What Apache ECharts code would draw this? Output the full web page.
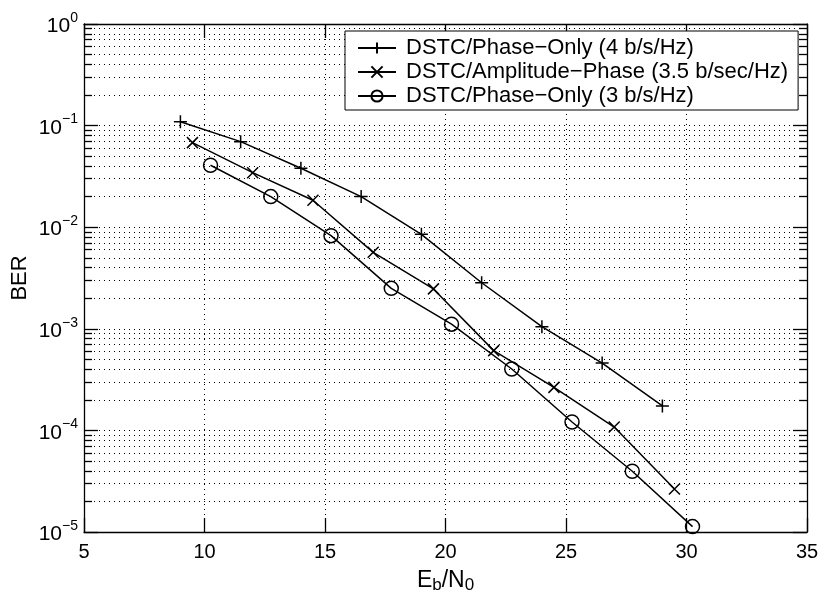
<!DOCTYPE html>
<html>
<head>
<meta charset="utf-8">
<title>BER vs Eb/N0</title>
<script src="https://cdn.jsdelivr.net/npm/echarts@6/dist/echarts.min.js"></script>
<style>
  html, body { margin: 0; padding: 0; background: #fff; }
  #ct1 { width: 820px; height: 603px; }
</style>
</head>
<body>
<div id="ct1"></div>
<script>
// 数据：从图上读取
var names = ['DSTC/Phase\u2212Only (4 b/s/Hz)', 'DSTC/Amplitude\u2212Phase (3.5 b/sec/Hz)', 'DSTC/Phase\u2212Only (3 b/s/Hz)'];
var snr4 = [9, 11.5, 14, 16.5, 19, 21.5, 24, 26.5, 29];
var ber4 = [0.109, 0.0695, 0.038, 0.020, 0.0085, 0.00284, 0.00105, 0.00046, 0.000174];
var snr35 = [9.5, 12, 14.5, 17, 19.5, 22, 24.5, 27, 29.5];
var ber35 = [0.068, 0.0344, 0.0184, 0.00566, 0.00247, 0.00061, 0.000265, 0.000108, 0.0000265];
var snr3 = [10.25, 12.75, 15.25, 17.75, 20.25, 22.75, 25.25, 27.75, 30.25];
var ber3 = [0.0407, 0.020, 0.00825, 0.0025, 0.00111, 0.000402, 0.000121, 0.0000396, 0.0000113];

window.onload = function () {
    var myChart = echarts.init(document.getElementById('ct1'));
    var font = 'Liberation Sans, Arial, Helvetica, sans-serif';
    var dotted = { color: '#000', width: 1, type: [1, 4] };

    function pairs(xs, ys) {
        return xs.map(function (x, i) { return [x, ys[i]]; });
    }
    function line(name, xs, ys, symbol, size) {
        return {
            name: name,
            type: 'line',
            data: pairs(xs, ys),
            symbol: symbol,
            symbolSize: size,
            showAllSymbol: true,
            lineStyle: { color: '#000', width: 1.5 },
            itemStyle: { color: 'none', borderColor: '#000', borderWidth: 1.5 },
            emphasis: { disabled: true },
            z: 5
        };
    }
    function expLabel(v) {
        var e = Math.round(Math.log10(v));
        return '{b|10}{e|' + (e < 0 ? '\u2212' + (-e) : e) + '}';
    }

    var option = {
        backgroundColor: '#fff',
        animation: false,
        textStyle: { fontFamily: font, color: '#000' },
        grid: { left: 84, right: 13, top: 24, bottom: 71, outerBoundsMode: 'none' },
        legend: {
            data: names,
            orient: 'vertical',
            left: 345,
            top: 31,
            padding: [6, 10, 3, 12],
            itemWidth: 38,
            itemHeight: 14,
            itemGap: 2,
            borderColor: '#000',
            borderWidth: 1,
            backgroundColor: '#fff',
            textStyle: { fontSize: 22, color: '#000', fontFamily: font, padding: [0, 0, 0, 5] }
        },
        xAxis: [{
            type: 'value',
            min: 5, max: 35, interval: 5,
            name: '{m|E}{s|b}{m|/N}{s|0}',
            nameLocation: 'middle',
            nameGap: 35,
            nameMoveOverlap: false,
            nameTextStyle: {
                rich: {
                    m: { fontSize: 23, fontFamily: font, color: '#000' },
                    s: { fontSize: 17, fontFamily: font, color: '#000', padding: [10, 0, 0, 0] }
                }
            },
            axisLine: { lineStyle: { color: '#000', width: 1.3 } },
            axisTick: { inside: true, length: 14, lineStyle: { color: '#000', width: 1.3 } },
            axisLabel: { fontSize: 20, margin: 10, color: '#000' },
            splitLine: { show: true, lineStyle: dotted }
        }, {
            type: 'value',
            position: 'top',
            min: 5, max: 35, interval: 5,
            axisLine: { show: true, lineStyle: { color: '#000', width: 1.3 } },
            axisTick: { inside: true, length: 14, lineStyle: { color: '#000', width: 1.3 } },
            axisLabel: { show: false },
            splitLine: { show: false }
        }],
        yAxis: [{
            type: 'log',
            logBase: 10,
            min: 1e-5, max: 1,
            name: 'BER',
            nameLocation: 'middle',
            nameGap: 53,
            nameMoveOverlap: false,
            nameTextStyle: { fontSize: 22, color: '#000' },
            axisLine: { show: true, lineStyle: { color: '#000', width: 1.3 } },
            axisTick: { inside: true, length: 14, lineStyle: { color: '#000', width: 1.3 } },
            minorTick: { show: true, splitNumber: 9, length: 8, lineStyle: { color: '#000', width: 1.3 } },
            axisLabel: {
                margin: 6,
                formatter: expLabel,
                rich: {
                    b: { fontSize: 21, fontFamily: font, color: '#000', lineHeight: 26, verticalAlign: 'bottom' },
                    e: { fontSize: 14, fontFamily: font, color: '#000', verticalAlign: 'top' }
                }
            },
            splitLine: { show: true, lineStyle: dotted },
            minorSplitLine: { show: true, lineStyle: dotted }
        }, {
            type: 'log',
            logBase: 10,
            position: 'right',
            min: 1e-5, max: 1,
            axisLine: { show: true, lineStyle: { color: '#000', width: 1.3 } },
            axisTick: { inside: true, length: 14, lineStyle: { color: '#000', width: 1.3 } },
            minorTick: { show: true, splitNumber: 9, length: 8, lineStyle: { color: '#000', width: 1.3 } },
            axisLabel: { show: false },
            splitLine: { show: false }
        }],
        series: [
            line(names[0], snr4, ber4, 'path://M6,0L6,12M0,6L12,6', 13),
            line(names[1], snr35, ber35, 'path://M0,0L10,10M10,0L0,10', 11),
            line(names[2], snr3, ber3, 'circle', 14)
        ]
    };

    myChart.setOption(option);
};
</script>
</body>
</html>
